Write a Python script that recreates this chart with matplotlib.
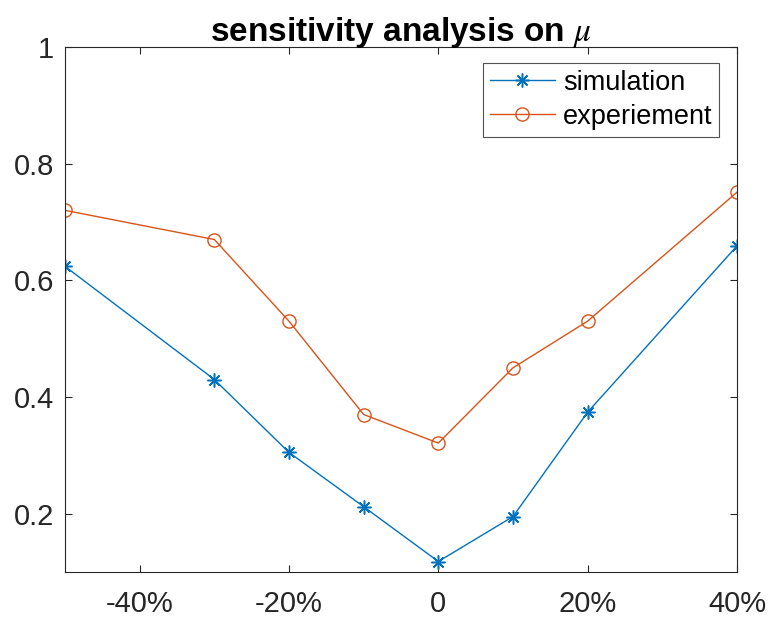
import numpy as np
import matplotlib.pyplot as plt

# perturbation of mu (%) and the resulting values
change = [-50, -30, -20, -10, 0, 10, 20, 40]
simulation = [0.624, 0.430, 0.305, 0.212, 0.118, 0.195, 0.374, 0.659]
experiment = [0.720, 0.670, 0.530, 0.370, 0.321, 0.450, 0.530, 0.751]

xticks = [-40, -20, 0, 20, 40]
xticklabels = ['-40%', '-20%', '0', '20%', '40%']
yticks = [0.2, 0.4, 0.6, 0.8, 1.0]
yticklabels = ['0.2', '0.4', '0.6', '0.8', '1']

plt.rcParams['font.family'] = ['Liberation Sans', 'DejaVu Sans']
plt.rcParams['mathtext.fontset'] = 'stix'

fig = plt.figure(figsize=(7.7, 6.25), dpi=100)
ax = fig.add_axes([0.0844, 0.0848, 0.8727, 0.84])

grey = '#262626'
asterisk = (8, 2, 0)
ax.plot(change, simulation, '-', marker=asterisk, color='#0072BD', lw=1.0,
        ms=10, mew=1.1, label='simulation')
ax.plot(change, experiment, '-o', color='#D95319', lw=1.0, ms=9.5,
        mew=1.0, mfc='none', label='experiement')

ax.set_xlim(-50, 40)
ax.set_ylim(0.1, 1.0)
ax.set_xticks(xticks)
ax.set_xticklabels(xticklabels)
ax.set_yticks(yticks)
ax.set_yticklabels(yticklabels)
ax.tick_params(direction='in', length=5, width=0.8, colors=grey,
               labelsize=21, top=True, right=True)
ax.tick_params(axis='x', pad=13)
ax.tick_params(axis='y', pad=8)
for s in ax.spines.values():
    s.set_color(grey)
    s.set_linewidth(0.8)

ax.set_title(r'sensitivity analysis on $\mu$', fontsize=24,
             fontweight='bold', pad=4)

leg = ax.legend(loc='upper right', bbox_to_anchor=(0.9338, 0.8992),
                bbox_transform=fig.transFigure, borderaxespad=0,
                fontsize=19.5, frameon=True, fancybox=False,
                handlelength=2.4, handletextpad=0.3,
                borderpad=0.25, labelspacing=0.3)
leg.get_frame().set_edgecolor(grey)
leg.get_frame().set_linewidth(0.8)

fig.savefig('out.png', dpi=100, facecolor='white')
